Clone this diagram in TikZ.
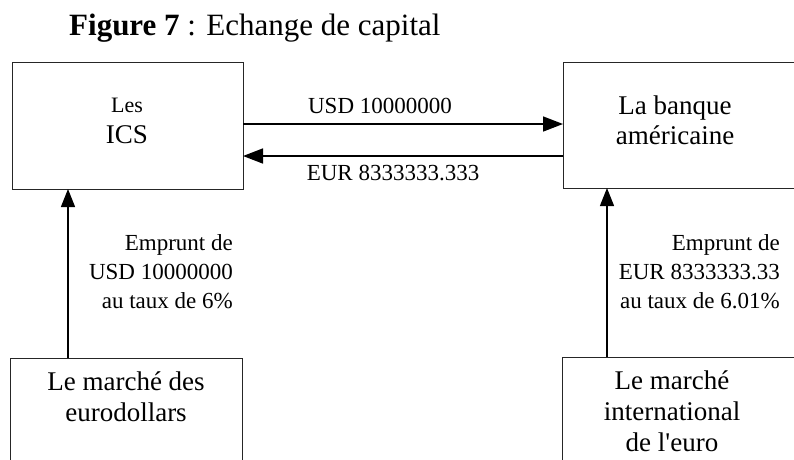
\documentclass[tikz,border=0pt]{standalone}
\usepackage{fontspec}
\setmainfont{Liberation Serif}
\usetikzlibrary{arrows.meta}
\begin{document}
\begin{tikzpicture}[x=1pt,y=-1pt,
  frame/.style={draw=black!85, line width=0.9pt, inner sep=0pt, outer sep=0pt},
  txt/.style={inner sep=0pt, font=\fontsize{#1}{#1}\selectfont},
  lbl/.style={inner sep=0pt, align=right, font=\fontsize{23}{29}\selectfont},
  flow/.style={line width=1.6pt, -{Triangle[length=20pt,width=15pt]}},
  lift/.style={line width=1.2pt, -{Triangle[length=18pt,width=14pt]}}
]
\useasboundingbox (0,0) rectangle (794,459);
\clip (0,0) rectangle (794,459);

% title
\node[txt=31, anchor=base west] (title) at (69,35)
  {\textbf{Figure 7} : Echange de capital};

% the four boxes (the right and lower ones run past the edge)
\node[frame, minimum width=231pt, minimum height=127pt] (ics) at (127.5,125.5) {};
\node[frame, minimum width=240pt, minimum height=126pt] (bank) at (683,125) {};
\node[frame, minimum width=232pt, minimum height=130pt] (eurodol) at (126,423) {};
\node[frame, minimum width=240pt, minimum height=130pt] (euromkt) at (682,422) {};

% box texts
\node[txt=22, anchor=base] (les) at (127,112) {Les};
\node[txt=27, anchor=base] (icsname) at (127,143) {ICS};
\node[inner sep=0pt, align=center, font=\fontsize{27}{30}\selectfont] (bankname) at (675,120)
  {La banque\\américaine};
\node[inner sep=0pt, align=center, font=\fontsize{27}{31}\selectfont] (eurodolname) at (126,397)
  {Le marché des\\eurodollars};
\node[inner sep=0pt, align=center, font=\fontsize{27}{31}\selectfont] (euromktname) at (672,411)
  {Le marché\\international\\de l\textquotesingle euro};

% exchange of principal
\draw[flow] ([yshift=1.5pt]ics.east) -- ([yshift=1pt]bank.west);
\draw[flow] ([yshift=-31pt]bank.west) -- ([yshift=-30.5pt]ics.east);
\node[txt=23, anchor=base] (usd) at (380,113) {USD 10000000};
\node[txt=23, anchor=base] (eur) at (393,180) {EUR 8333333.333};

% borrowing on the markets
\draw[lift] ([xshift=58pt]eurodol.north west) -- ([xshift=56pt]ics.south west);
\draw[lift] ([xshift=45pt]euromkt.north west) -- ([xshift=44pt]bank.south west);
\node[lbl, anchor=east] (loanusd) at (233,272)
  {Emprunt de\\USD 10000000\\au taux de 6\%};
\node[lbl, anchor=east] (loaneur) at (780,272)
  {Emprunt de\\EUR 8333333.33\\au taux de 6.01\%};
\end{tikzpicture}
\end{document}
